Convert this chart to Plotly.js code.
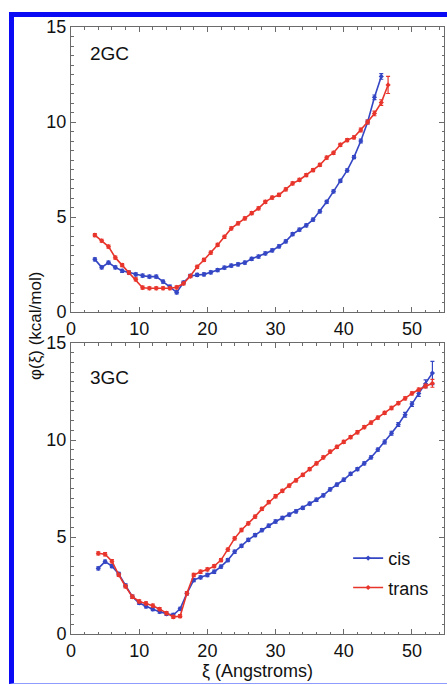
<!DOCTYPE html>
<html>
<head>
<meta charset="utf-8">
<script src="https://cdn.plot.ly/plotly-3.0.1.min.js"></script>
<style>
html,body{margin:0;padding:0;background:#fff;}
#wrap{position:relative;width:447px;height:685px;overflow:hidden;}
#chart{position:absolute;left:0;top:0;width:447px;height:685px;}
#frame{position:absolute;left:9px;top:12px;width:440px;height:666px;border-left:5px solid #0a0af5;border-top:5px solid #0a0af5;border-bottom:1px solid #8f9cff;pointer-events:none;}
</style>
</head>
<body>
<div id="wrap"><div id="chart"></div><div id="frame"></div></div>
<script>
// ---- 2GC (top panel) ----
const xCis2GC = [3.5,4.5,5.5,6.5,7.5,8.5,9.5,10.5,11.5,12.5,13.5,14.5,15.5,16.5,17.5,18.5,19.5,20.5,21.5,22.5,23.5,24.5,25.5,26.5,27.5,28.5,29.5,30.5,31.5,32.5,33.5,34.5,35.5,36.5,37.5,38.5,39.5,40.5,41.5,42.5,43.5,44.5,45.5];
const yCis2GC = [2.77,2.35,2.6,2.35,2.17,2.07,1.98,1.91,1.86,1.86,1.6,1.33,1.03,1.55,1.9,1.95,1.98,2.09,2.21,2.33,2.44,2.51,2.6,2.8,2.92,3.08,3.24,3.45,3.72,4.1,4.33,4.56,4.86,5.3,5.8,6.35,6.9,7.45,8.15,9.0,10.0,11.3,12.4];
const eCis2GC = [0.08,0.08,0.08,0.08,0.08,0.08,0.08,0.08,0.08,0.08,0.08,0.08,0.08,0.08,0.08,0.08,0.08,0.08,0.08,0.08,0.08,0.08,0.08,0.08,0.08,0.08,0.08,0.08,0.08,0.08,0.08,0.08,0.08,0.08,0.08,0.08,0.08,0.08,0.08,0.1,0.1,0.12,0.15];
const xTrans2GC = [3.5,4.5,5.5,6.5,7.5,8.5,9.5,10.5,11.5,12.5,13.5,14.5,15.5,16.5,17.5,18.5,19.5,20.5,21.5,22.5,23.5,24.5,25.5,26.5,27.5,28.5,29.5,30.5,31.5,32.5,33.5,34.5,35.5,36.5,37.5,38.5,39.5,40.5,41.5,42.5,43.5,44.5,45.5,46.5];
const yTrans2GC = [4.05,3.75,3.44,2.86,2.47,2.07,1.72,1.28,1.25,1.25,1.25,1.25,1.3,1.5,1.89,2.38,2.74,3.12,3.53,3.96,4.4,4.67,4.93,5.2,5.46,5.8,6.02,6.16,6.46,6.77,6.95,7.21,7.47,7.74,8.12,8.38,8.8,9.05,9.19,9.58,10.0,10.45,11.02,11.95];
const eTrans2GC = [0.08,0.08,0.08,0.08,0.08,0.08,0.08,0.08,0.08,0.08,0.08,0.08,0.08,0.08,0.08,0.08,0.08,0.08,0.08,0.08,0.08,0.08,0.08,0.08,0.08,0.08,0.08,0.08,0.08,0.08,0.08,0.08,0.08,0.08,0.08,0.08,0.08,0.08,0.08,0.1,0.1,0.12,0.15,0.45];

// ---- 3GC (bottom panel) ----
const x3GC = [4,5,6,7,8,9,10,11,12,13,14,15,16,17,18,19,20,21,22,23,24,25,26,27,28,29,30,31,32,33,34,35,36,37,38,39,40,41,42,43,44,45,46,47,48,49,50,51,52,53];
const yCis3GC = [3.38,3.73,3.5,3.1,2.5,1.92,1.6,1.42,1.28,1.15,1.04,0.98,1.3,2.1,2.78,2.92,3.04,3.21,3.47,3.81,4.24,4.54,4.85,5.1,5.35,5.58,5.8,5.98,6.15,6.32,6.5,6.72,6.92,7.15,7.45,7.7,7.95,8.25,8.5,8.8,9.1,9.5,9.9,10.35,10.8,11.3,11.85,12.4,12.9,13.45];
const eCis3GC = [0.08,0.08,0.08,0.08,0.08,0.08,0.08,0.08,0.08,0.08,0.08,0.08,0.08,0.08,0.08,0.08,0.08,0.08,0.08,0.08,0.08,0.08,0.08,0.08,0.08,0.08,0.08,0.08,0.08,0.08,0.08,0.08,0.08,0.08,0.08,0.08,0.08,0.08,0.08,0.08,0.08,0.08,0.1,0.1,0.1,0.12,0.12,0.15,0.2,0.6];
const yTrans3GC = [4.16,4.11,3.75,3.05,2.45,1.92,1.68,1.58,1.46,1.28,1.08,0.88,0.92,2.1,3.04,3.21,3.33,3.5,3.81,4.35,4.93,5.36,5.7,6.05,6.45,6.8,7.1,7.38,7.65,7.92,8.2,8.5,8.8,9.1,9.4,9.65,9.9,10.15,10.4,10.66,10.9,11.15,11.4,11.65,11.9,12.15,12.4,12.6,12.78,12.92];
const eTrans3GC = [0.08,0.08,0.08,0.08,0.08,0.08,0.08,0.08,0.08,0.08,0.08,0.08,0.08,0.08,0.08,0.08,0.08,0.08,0.08,0.08,0.08,0.08,0.08,0.08,0.08,0.08,0.08,0.08,0.08,0.08,0.08,0.08,0.08,0.08,0.08,0.08,0.08,0.08,0.08,0.08,0.08,0.08,0.08,0.08,0.08,0.08,0.08,0.08,0.1,0.2];

const seriesNames = ['cis','trans'];
const panelLabels = ['2GC','3GC'];
const xTickVals = [0,10,20,30,40,50];
const yTickVals = [0,5,10,15];

const blue = '#3446c4';
const red = '#e8352c';
const font = 'Liberation Sans, Arial, Helvetica, sans-serif';

function tr(x, y, e, name, color, xa, ya, show, grp) {
  return {
    x: x, y: y, name: name, type: 'scatter', mode: 'lines+markers',
    xaxis: xa, yaxis: ya, showlegend: show, legendgroup: grp,
    line: {color: color, width: 1.6},
    marker: {color: color, size: 4, symbol: 'diamond'},
    error_y: {type: 'data', array: e, visible: true, color: color, thickness: 1.2, width: 2}
  };
}

const data = [
  tr(xCis2GC, yCis2GC, eCis2GC, seriesNames[0], blue, 'x2', 'y2', false, 'c'),
  tr(xTrans2GC, yTrans2GC, eTrans2GC, seriesNames[1], red, 'x2', 'y2', false, 't'),
  tr(x3GC, yCis3GC, eCis3GC, seriesNames[0], blue, 'x', 'y', true, 'c'),
  tr(x3GC, yTrans3GC, eTrans3GC, seriesNames[1], red, 'x', 'y', true, 't')
];

const axCommon = {
  showgrid: false, zeroline: false, showline: true, linecolor: '#6b6b6b', linewidth: 1,
  mirror: 'ticks', ticks: 'inside', ticklen: 5, tickwidth: 1, tickcolor: '#6b6b6b',
  tickfont: {family: font, size: 18, color: '#111'}
};
const xAx = Object.assign({}, axCommon, {
  range: [0, 54.7], tickvals: xTickVals, ticktext: xTickVals.map(String),
  minor: {dtick: 2, ticklen: 2.5, tickcolor: '#6b6b6b', ticks: 'inside'}
});
const yAx = Object.assign({}, axCommon, {
  range: [0, 15], tickvals: yTickVals, ticktext: yTickVals.map(String),
  minor: {dtick: 0.5, ticklen: 2.5, tickcolor: '#6b6b6b', ticks: 'inside'}
});

const H = 685, T = 27, B = 51;
const ph = H - T - B;
const layout = {
  width: 447, height: 685,
  margin: {l: 71, r: 3, t: T, b: B, pad: 0},
  paper_bgcolor: '#fff', plot_bgcolor: '#fff',
  font: {family: font, size: 18, color: '#111'},
  xaxis: Object.assign({}, xAx, {anchor: 'y', domain: [0, 1],
    title: {text: 'ξ (Angstroms)', font: {family: font, size: 18, color: '#111'}, standoff: 4}}),
  yaxis: Object.assign({}, yAx, {anchor: 'x', domain: [0, (634 - 343) / ph]}),
  xaxis2: Object.assign({}, xAx, {anchor: 'y2', domain: [0, 1]}),
  yaxis2: Object.assign({}, yAx, {anchor: 'x2', domain: [(634 - 312) / ph, 1]}),
  showlegend: true,
  legend: {x: 0.743, y: 0.155, xanchor: 'left', yanchor: 'top', bgcolor: 'rgba(0,0,0,0)',
    font: {family: font, size: 18, color: '#111'}, tracegroupgap: 3},
  annotations: [
    {text: panelLabels[0], xref: 'paper', yref: 'paper', x: (88 - 71) / 373, y: 1 - (53 - 27) / ph,
     xanchor: 'left', yanchor: 'middle', showarrow: false, font: {family: font, size: 19, color: '#111'}},
    {text: panelLabels[1], xref: 'paper', yref: 'paper', x: (88 - 71) / 373, y: 1 - (377 - 27) / ph,
     xanchor: 'left', yanchor: 'middle', showarrow: false, font: {family: font, size: 19, color: '#111'}},
    {text: 'φ(ξ) (kcal/mol)', xref: 'paper', yref: 'paper', x: (35 - 71) / 373, y: 1 - (326 - 27) / ph,
     xanchor: 'center', yanchor: 'middle', textangle: -90, showarrow: false,
     font: {family: font, size: 17, color: '#111'}}
  ]
};

Plotly.newPlot('chart', data, layout, {staticPlot: true, displayModeBar: false});
</script>
</body>
</html>
